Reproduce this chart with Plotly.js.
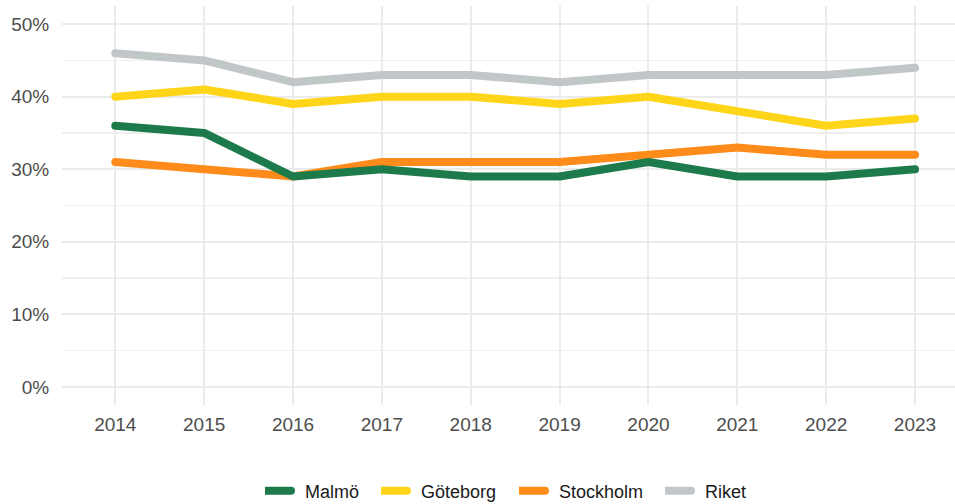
<!DOCTYPE html>
<html>
<head>
<meta charset="utf-8">
<script src="https://cdn.plot.ly/plotly-3.0.1.min.js"></script>
<style>
html, body { margin: 0; padding: 0; background: #fff; }
#chart { width: 955px; height: 504px; }
.js-line { stroke-linecap: round !important; stroke-linejoin: round !important; }
.legendlines path { d: path("M-6,0h32"); }
</style>
</head>
<body>
<div id="chart"></div>
<script>
const years = [2014, 2015, 2016, 2017, 2018, 2019, 2020, 2021, 2022, 2023];
const malmo = [0.36, 0.35, 0.29, 0.30, 0.29, 0.29, 0.31, 0.29, 0.29, 0.30];
const goteborg = [0.40, 0.41, 0.39, 0.40, 0.40, 0.39, 0.40, 0.38, 0.36, 0.37];
const stockholm = [0.31, 0.30, 0.29, 0.31, 0.31, 0.31, 0.32, 0.33, 0.32, 0.32];
const riket = [0.46, 0.45, 0.42, 0.43, 0.43, 0.42, 0.43, 0.43, 0.43, 0.44];
const yTicks = [0, 0.1, 0.2, 0.3, 0.4, 0.5];
const yTickLabels = ['0%', '10%', '20%', '30%', '40%', '50%'];

function tr(name, y, color, legendId) {
  return {
    x: years, y: y, name: name, type: 'scatter', mode: 'lines',
    line: { color: color, width: 8 },
    legend: legendId,
    hoverinfo: 'x+y+name'
  };
}

const data = [
  tr('Riket', riket, '#C1C6C8', 'legend4'),
  tr('Stockholm', stockholm, '#FF8C1A', 'legend3'),
  tr('Göteborg', goteborg, '#FFD51A', 'legend2'),
  tr('Malmö', malmo, '#1C7A4B', 'legend')
];

const plotLeft = 62, plotWidth = 893;
function leg(textPx) {
  return {
    orientation: 'h', x: (textPx - 42 - plotLeft) / plotWidth, xanchor: 'left',
    y: -0.2155, yanchor: 'middle', bgcolor: 'rgba(0,0,0,0)',
    font: { size: 18, color: '#1a1a1a' }
  };
}

const layout = {
  width: 955, height: 504,
  margin: { l: 62, r: 0, t: 6, b: 99, autoexpand: false },
  paper_bgcolor: '#fff', plot_bgcolor: '#fff',
  font: { family: 'Liberation Sans, Arial, sans-serif', size: 18, color: '#1a1a1a' },
  showlegend: true,
  legend: leg(307),
  legend2: leg(423),
  legend3: leg(561),
  legend4: leg(707),
  xaxis: {
    range: [2013.4, 2023.45], tickmode: 'array', tickvals: years, ticktext: years.map(String),
    showgrid: true, gridcolor: '#EBEBEB', gridwidth: 2, zeroline: false, showline: false,
    ticks: 'outside', ticklen: 2, tickcolor: 'rgba(0,0,0,0)',
    tickfont: { size: 19, color: '#4D4D4D' }, fixedrange: true
  },
  yaxis: {
    range: [-0.025, 0.525], tickmode: 'array', tickvals: yTicks, ticktext: yTickLabels,
    showgrid: true, gridcolor: '#EBEBEB', gridwidth: 2, zeroline: false, showline: false,
    minor: { dtick: 0.1, tick0: 0.05, showgrid: true, gridcolor: '#EFEFEF', gridwidth: 1.5 },
    ticks: 'outside', ticklen: 8, tickcolor: 'rgba(0,0,0,0)',
    tickfont: { size: 19, color: '#4D4D4D' }, fixedrange: true
  }
};

Plotly.newPlot('chart', data, layout, { displayModeBar: false, staticPlot: true });
</script>
</body>
</html>
